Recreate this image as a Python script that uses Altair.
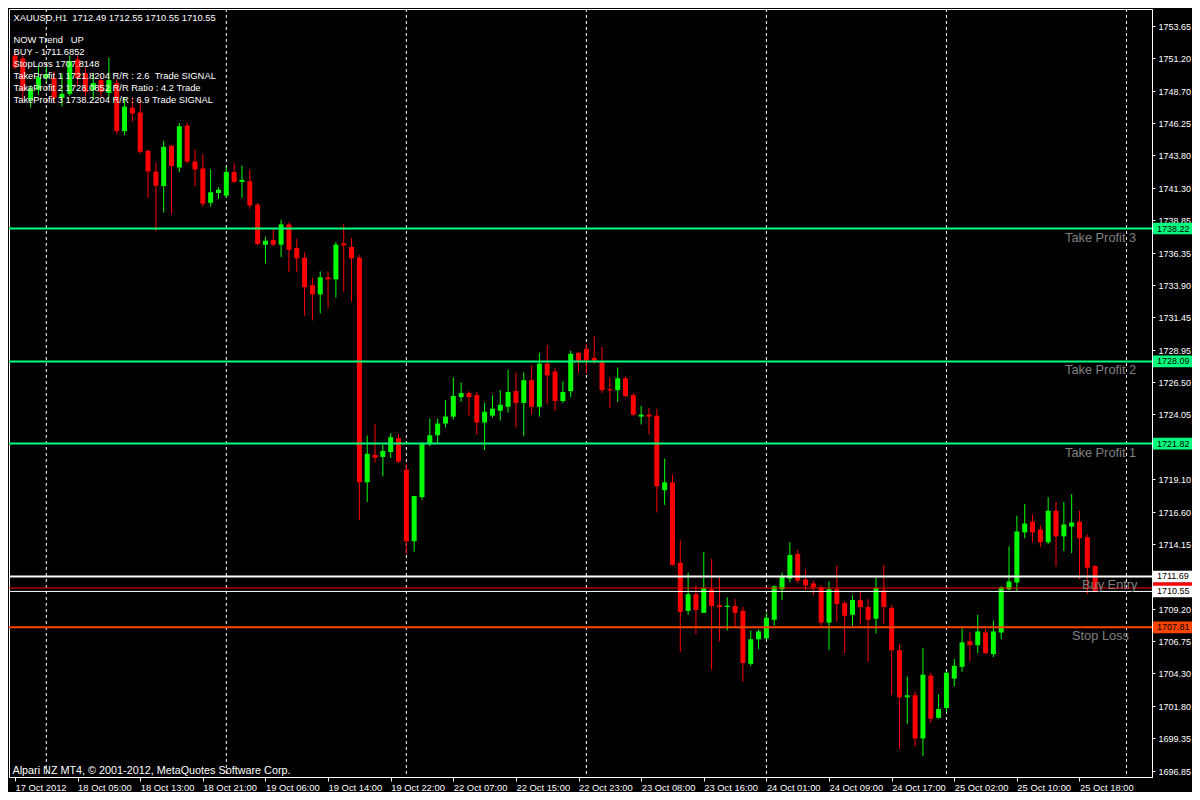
import json
import altair as alt
import pandas as pd

# ---------------- data ----------------
TIME_LABELS = ["17 Oct 2012", "18 Oct 05:00", "18 Oct 13:00", "18 Oct 21:00", "19 Oct 06:00",
               "19 Oct 14:00", "19 Oct 22:00", "22 Oct 07:00", "22 Oct 15:00", "22 Oct 23:00",
               "23 Oct 08:00", "23 Oct 16:00", "24 Oct 01:00", "24 Oct 09:00", "24 Oct 17:00",
               "25 Oct 02:00", "25 Oct 10:00", "25 Oct 18:00"]
BARS_PER_LABEL = 8

OPEN = [1751.41, 1751.18, 1748.04, 1748.79, 1749.70, 1749.69, 1748.19, 1748.49, 1751.11, 1750.06,
        1748.79, 1749.54, 1748.56, 1749.31, 1745.65, 1747.44, 1747.07, 1744.15, 1742.56, 1741.46,
        1744.52, 1742.88, 1746.07, 1743.33, 1742.80, 1740.18, 1740.93, 1740.73, 1742.53, 1741.78,
        1741.83, 1740.04, 1736.99, 1737.34, 1736.99, 1738.54, 1736.74, 1735.99, 1733.90, 1733.20,
        1734.50, 1734.35, 1737.09, 1736.82, 1735.99, 1718.87, 1720.96, 1720.81, 1721.18, 1722.23,
        1719.84, 1714.38, 1717.74, 1721.78, 1722.46, 1723.35, 1723.88, 1725.37, 1725.67, 1725.52,
        1723.43, 1723.95, 1724.33, 1724.63, 1725.82, 1724.92, 1726.65, 1724.63, 1727.92, 1727.32,
        1725.07, 1725.82, 1728.74, 1729.04, 1728.37, 1728.07, 1725.97, 1725.90, 1726.80, 1725.52,
        1723.88, 1724.03, 1723.95, 1718.27, 1718.87, 1712.73, 1709.07, 1710.34, 1708.92, 1710.71,
        1709.51, 1709.36, 1709.44, 1709.07, 1705.03, 1706.90, 1706.97, 1708.39, 1710.71, 1711.53,
        1713.40, 1711.46, 1711.16, 1710.86, 1708.17, 1710.71, 1709.66, 1708.77, 1709.89, 1709.36,
        1708.47, 1710.64, 1709.29, 1706.07, 1702.48, 1702.63, 1699.34, 1704.13, 1700.91, 1701.66,
        1703.90, 1704.80, 1706.75, 1706.45, 1707.42, 1705.77, 1707.42, 1710.71, 1711.23, 1715.05,
        1715.87, 1715.27, 1714.30, 1716.70, 1714.75, 1715.50, 1715.87, 1714.68, 1712.49]
HIGH = [1751.70, 1751.41, 1749.16, 1750.66, 1750.60, 1750.21, 1750.06, 1751.41, 1751.41, 1750.51,
        1750.06, 1749.91, 1751.26, 1749.61, 1748.19, 1748.19, 1748.19, 1744.22, 1743.25, 1744.90,
        1744.60, 1746.27, 1746.32, 1744.22, 1743.87, 1742.73, 1741.38, 1742.93, 1743.18, 1743.03,
        1742.73, 1740.18, 1737.59, 1738.19, 1738.89, 1738.69, 1737.44, 1736.39, 1734.45, 1734.95,
        1734.95, 1737.19, 1738.56, 1737.49, 1736.20, 1722.43, 1723.28, 1721.73, 1722.61, 1722.53,
        1720.24, 1717.82, 1721.93, 1723.73, 1723.73, 1725.15, 1726.87, 1726.50, 1725.82, 1725.75,
        1724.92, 1725.52, 1725.90, 1727.47, 1727.24, 1727.24, 1727.77, 1728.74, 1729.34, 1727.62,
        1726.57, 1728.89, 1728.82, 1729.41, 1730.01, 1729.19, 1726.87, 1727.62, 1726.94, 1725.67,
        1724.70, 1724.55, 1724.48, 1720.66, 1719.46, 1714.45, 1711.98, 1711.01, 1713.55, 1713.03,
        1711.61, 1710.11, 1709.96, 1709.36, 1707.57, 1707.65, 1708.92, 1711.01, 1711.98, 1714.30,
        1713.70, 1712.21, 1711.38, 1711.01, 1711.31, 1712.51, 1709.81, 1710.26, 1710.49, 1709.96,
        1711.61, 1712.58, 1709.51, 1706.52, 1704.05, 1702.93, 1706.22, 1704.35, 1702.71, 1704.43,
        1705.40, 1707.72, 1707.42, 1708.77, 1707.72, 1708.32, 1710.94, 1714.00, 1716.32, 1717.22,
        1716.40, 1715.57, 1717.74, 1717.37, 1717.37, 1717.97, 1716.70, 1714.90, 1712.55]
LOW = [1750.36, 1747.89, 1747.44, 1748.41, 1749.40, 1747.89, 1747.52, 1748.34, 1749.16, 1748.26,
       1748.04, 1748.26, 1748.19, 1745.42, 1745.35, 1746.39, 1743.93, 1740.56, 1738.01, 1739.44,
       1739.31, 1742.53, 1743.18, 1741.46, 1739.89, 1739.89, 1740.48, 1740.56, 1741.68, 1740.56,
       1739.74, 1736.95, 1735.55, 1736.90, 1736.05, 1734.90, 1734.90, 1731.58, 1731.21, 1731.75,
       1732.18, 1732.95, 1733.40, 1732.65, 1716.00, 1717.37, 1720.36, 1719.32, 1720.74, 1720.36,
       1713.43, 1713.58, 1717.54, 1721.61, 1721.78, 1723.05, 1723.68, 1725.00, 1723.95, 1722.53,
       1721.33, 1723.80, 1723.58, 1724.18, 1723.05, 1722.38, 1724.03, 1723.88, 1724.85, 1724.33,
       1724.92, 1725.37, 1727.24, 1727.17, 1727.92, 1725.67, 1724.55, 1725.00, 1725.37, 1723.95,
       1723.28, 1722.53, 1716.57, 1717.15, 1712.51, 1705.92, 1708.77, 1707.27, 1708.92, 1704.58,
       1706.75, 1707.57, 1707.87, 1703.68, 1704.88, 1706.15, 1706.90, 1707.94, 1709.89, 1711.23,
       1711.16, 1710.64, 1710.26, 1707.94, 1706.07, 1708.24, 1705.85, 1707.94, 1708.02, 1705.18,
       1707.35, 1708.09, 1702.63, 1698.54, 1700.46, 1698.74, 1698.00, 1700.54, 1700.84, 1701.36,
       1703.31, 1704.43, 1705.25, 1705.85, 1705.77, 1705.55, 1706.90, 1710.64, 1710.56, 1714.60,
       1714.30, 1713.93, 1714.15, 1712.43, 1713.63, 1713.48, 1711.46, 1710.34, 1710.55]
CLOSE = [1750.51, 1748.71, 1748.86, 1749.76, 1750.00, 1748.19, 1748.49, 1750.96, 1749.69, 1748.64,
         1749.31, 1748.64, 1749.54, 1745.65, 1747.52, 1746.99, 1744.07, 1742.58, 1741.48, 1744.45,
         1742.98, 1746.02, 1743.33, 1742.73, 1740.11, 1740.98, 1741.18, 1742.53, 1741.78, 1741.93,
         1739.98, 1737.04, 1737.29, 1736.99, 1738.54, 1736.59, 1735.94, 1733.75, 1733.20, 1734.50,
         1734.35, 1736.99, 1736.94, 1735.94, 1718.87, 1721.04, 1720.74, 1721.26, 1722.31, 1720.44,
         1714.38, 1717.82, 1721.78, 1722.46, 1723.35, 1723.88, 1725.45, 1725.67, 1725.37, 1723.43,
         1724.25, 1724.48, 1724.78, 1725.75, 1724.92, 1726.65, 1724.63, 1727.92, 1727.02, 1725.07,
         1725.75, 1728.67, 1728.07, 1728.14, 1728.14, 1725.90, 1725.87, 1726.80, 1725.45, 1724.03,
         1724.03, 1723.88, 1718.57, 1718.87, 1712.58, 1708.99, 1710.34, 1709.14, 1710.79, 1709.44,
         1709.36, 1709.46, 1708.92, 1705.10, 1706.90, 1707.50, 1708.54, 1710.94, 1711.68, 1713.33,
         1711.38, 1711.01, 1710.86, 1708.17, 1710.71, 1709.59, 1708.69, 1709.89, 1709.36, 1708.39,
         1710.79, 1709.36, 1706.07, 1702.48, 1702.63, 1699.34, 1704.20, 1700.84, 1701.58, 1704.35,
         1704.88, 1706.67, 1706.45, 1707.50, 1705.85, 1707.50, 1710.86, 1711.31, 1715.12, 1715.72,
         1715.05, 1714.30, 1716.70, 1714.75, 1715.65, 1715.80, 1714.60, 1712.36, 1710.55]

Y_TICKS = [1753.65, 1751.20, 1748.70, 1746.25, 1743.80, 1741.30, 1738.85, 1736.35, 1733.90,
           1731.45, 1728.95, 1726.50, 1724.05, 1719.10, 1716.60, 1714.15, 1709.20, 1706.75,
           1704.30, 1701.80, 1699.35, 1696.85]
GRID_IDX = [4, 27, 50, 73, 96, 119, 142]

LEVEL_PRICES = [1738.22, 1728.09, 1721.82, 1711.69, 1710.81, 1710.55, 1707.81]
LEVEL_NAMES = ["Take Profit 3", "Take Profit 2", "Take Profit 1", "Buy Entry", "", "", "Stop Loss"]

INFO_LINES = ["XAUUSD,H1  1712.49 1712.55 1710.55 1710.55",
              "NOW Trend   UP",
              "BUY - 1711.6852",
              "StopLoss 1707.8148",
              "TakeProfit 1 1721.8204 R/R : 2.6  Trade SIGNAL",
              "TakeProfit 2 1728.0852 R/R Ratio : 4.2 Trade",
              "TakeProfit 3 1738.2204 R/R : 6.9 Trade SIGNAL"]
COPYRIGHT = "Alpari NZ MT4, \u00a9 2001-2012, MetaQuotes Software Corp."

# ---------------- styles / layout ----------------
W, H = 1143, 768
FONT = "Liberation Sans"
BULL, BEAR = "#00ff00", "#ff0000"
LEVEL_COLORS = ["#00ff7f", "#00ff7f", "#00ff7f", "#ffffff", "#ff0000", "#ffffff", "#ff4500"]
LEVEL_WIDTHS = [2, 2, 2, 2, 1, 1, 2]
LEVEL_TEXT_X = [1056, 1056, 1056, 1073, 0, 0, 1063]
BOX_SHOWS_TEXT = [True, True, True, True, False, True, True]


def nb(s):
    return s.replace("  ", "\u00a0\u00a0")


candles = pd.DataFrame({"i": list(range(len(OPEN))), "open": OPEN, "high": HIGH,
                        "low": LOW, "close": CLOSE})
candles["color"] = [BULL if c >= o else BEAR for o, c in zip(OPEN, CLOSE)]

levels = pd.DataFrame({"price": LEVEL_PRICES, "name": LEVEL_NAMES,
                       "color": LEVEL_COLORS, "w": LEVEL_WIDTHS})
levels["label"] = ["%.2f" % p for p in LEVEL_PRICES]

xscale = alt.Scale(domain=[-0.125, 144.625], nice=False, zero=False)
yscale = alt.Scale(domain=[1696.40, 1754.96], nice=False, zero=False)

label_expr = json.dumps(TIME_LABELS) + "[round(datum.value / %d)]" % BARS_PER_LABEL
x_axis = alt.Axis(values=list(range(0, len(TIME_LABELS) * BARS_PER_LABEL, BARS_PER_LABEL)),
                  labelExpr=label_expr, orient="bottom", tickSize=4, tickColor="#ffffff",
                  labelAlign="left", labelBaseline="top", labelPadding=2, labelFont=FONT,
                  labelFontSize=9.4, labelColor="#ffffff", domainColor="#ffffff", grid=False,
                  labelOverlap=False, labelFlush=False, title=None, zindex=1)
y_axis = alt.Axis(values=Y_TICKS, orient="right", format=".2f", tickSize=3, tickColor="#ffffff",
                  labelPadding=3, labelFont=FONT, labelFontSize=9, labelColor="#ffffff",
                  domainColor="#ffffff", grid=False, labelOverlap=False, labelFlush=False,
                  title=None, zindex=0)


def X(field):
    return alt.X(field, scale=xscale, axis=x_axis)


def Y(field):
    return alt.Y(field, scale=yscale, axis=y_axis)


wicks = alt.Chart(candles).mark_rule(strokeWidth=1, clip=True).encode(
    x=X("i:Q"), y=Y("low:Q"), y2="high:Q",
    color=alt.Color("color:N", scale=None),
)
bodies = alt.Chart(candles).mark_bar(size=5, clip=True).encode(
    x=X("i:Q"), y=Y("open:Q"), y2="close:Q",
    color=alt.Color("color:N", scale=None),
)
grid = alt.Chart(pd.DataFrame({"g": GRID_IDX})).mark_rule(
    color="#ffffff", strokeWidth=1, strokeDash=[3, 3]
).encode(x=X("g:Q"))

level_rules = alt.Chart(levels).mark_rule().encode(
    y=Y("price:Q"),
    color=alt.Color("color:N", scale=None),
    strokeWidth=alt.StrokeWidth("w:Q", scale=None),
)

layers = [grid, wicks, bodies, level_rules]

# level captions inside the plot
for name, price, tx in zip(LEVEL_NAMES, LEVEL_PRICES, LEVEL_TEXT_X):
    if not name:
        continue
    layers.append(
        alt.Chart(pd.DataFrame({"price": [price], "name": [name]})).mark_text(
            align="left", baseline="alphabetic", dy=13, font=FONT, fontSize=12.8, color="#808080"
        ).encode(x=alt.value(tx), y=Y("price:Q"), text="name:N")
    )

# price boxes on the right axis (the red one is drawn first, under the white ones)
order = [4, 0, 1, 2, 3, 5, 6]
for k in order:
    one = levels.iloc[[k]]
    box = alt.Chart(one).transform_calculate(
        top="datum.price + 0.44", bot="datum.price - 0.44"
    ).mark_rect().encode(
        x=alt.value(W + 1), x2=alt.value(W + 41),
        y=Y("top:Q"), y2="bot:Q",
        color=alt.Color("color:N", scale=None),
    )
    layers.append(box)
    if BOX_SHOWS_TEXT[k]:
        txt = alt.Chart(one).mark_text(
            align="left", baseline="middle", font=FONT, fontSize=9, color="#000000"
        ).encode(x=alt.value(W + 5), y=Y("price:Q"), text="label:N")
        layers.append(txt)

# info text block (top-left)
info_y = [11.5, 33.5, 45.5, 57.5, 69.5, 81.5, 93.5]
for line, yy in zip(INFO_LINES, info_y):
    layers.append(
        alt.Chart(pd.DataFrame({"t": [nb(line)]})).mark_text(
            align="left", baseline="alphabetic", font=FONT, fontSize=9.4, color="#ffffff"
        ).encode(x=alt.value(4.5), y=alt.value(yy), text="t:N")
    )

layers.append(
    alt.Chart(pd.DataFrame({"t": [COPYRIGHT]})).mark_text(
        align="left", baseline="alphabetic", font=FONT, fontSize=10.8, color="#ffffff"
    ).encode(x=alt.value(3.5), y=alt.value(H - 3.5), text="t:N")
)

chart = alt.layer(*layers).properties(
    width=W, height=H,
    padding={"left": 1, "top": 1, "right": 40, "bottom": 15},
    autosize=alt.AutoSizeParams(type="none"),
    background="#000000",
).configure_view(stroke="#ffffff", strokeWidth=1)

chart.save("out.html", embed_options={"renderer": "svg", "actions": False})
